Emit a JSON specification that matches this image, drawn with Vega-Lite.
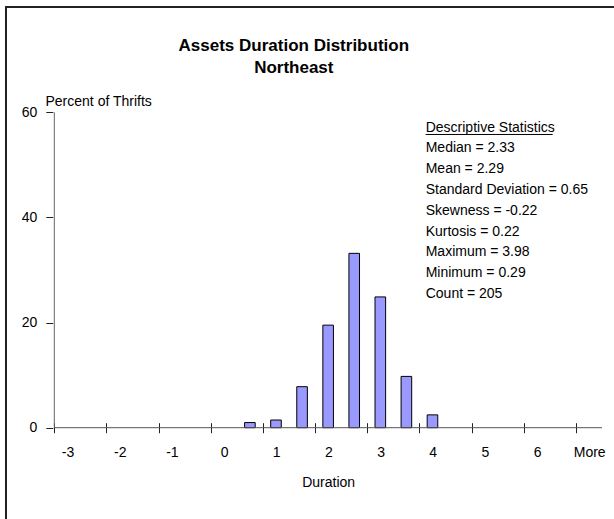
{
  "$schema": "https://vega.github.io/schema/vega-lite/v6.json",
  "width": 614,
  "height": 518,
  "autosize": "none",
  "padding": {"left": 6, "top": 7, "right": -6, "bottom": -6},
  "background": "white",
  "config": {
    "view": {"stroke": "#222", "strokeWidth": 2},
    "font": "Liberation Sans",
    "text": {"font": "Liberation Sans"},
    "axisX": {
      "offset": -102.3,
      "domain": false,
      "grid": false,
      "tickSize": 10,
      "tickColor": "#222",
      "tickWidth": 1,
      "labelPadding": 13,
      "labelOffset": 13.28,
      "labelFontSize": 14,
      "labelFont": "Liberation Sans",
      "labelColor": "black",
      "labelFlush": false,
      "labelOverlap": false,
      "labelBound": false,
      "titleFont": "Liberation Sans",
      "titleFontSize": 14,
      "titleFontWeight": "normal",
      "titleColor": "black",
      "titleBaseline": "alphabetic",
      "titleY": 63.3
    },
    "axisY": {
      "offset": -46.8,
      "domain": false,
      "grid": false,
      "tickSize": 7,
      "tickColor": "#222",
      "tickWidth": 1,
      "labelPadding": 9,
      "labelFontSize": 14,
      "labelFont": "Liberation Sans",
      "labelColor": "black",
      "labelFlush": false,
      "labelOverlap": false,
      "titleFont": "Liberation Sans",
      "titleFontSize": 14,
      "titleFontWeight": "normal",
      "titleColor": "black",
      "titleAngle": 0,
      "titleAlign": "left",
      "titleBaseline": "alphabetic",
      "titleX": -7.8,
      "titleY": 98
    }
  },
  "title": {
    "text": ["Assets Duration Distribution", "Northeast"],
    "font": "Liberation Sans",
    "fontSize": 17,
    "fontWeight": "bold",
    "color": "black",
    "anchor": "middle",
    "frame": "group",
    "baseline": "top",
    "lineHeight": 22.7,
    "offset": 0,
    "dx": -19.2,
    "dy": 70.5
  },
  "data": {
    "values": [
      {"Bin": "-3", "Duration": -3, "Percent": 0},
      {"Bin": "-2.5", "Duration": -2.5, "Percent": 0},
      {"Bin": "-2", "Duration": -2, "Percent": 0},
      {"Bin": "-1.5", "Duration": -1.5, "Percent": 0},
      {"Bin": "-1", "Duration": -1, "Percent": 0},
      {"Bin": "-0.5", "Duration": -0.5, "Percent": 0},
      {"Bin": "0", "Duration": 0, "Percent": 0},
      {"Bin": "0.5", "Duration": 0.5, "Percent": 0.98},
      {"Bin": "1", "Duration": 1, "Percent": 1.46},
      {"Bin": "1.5", "Duration": 1.5, "Percent": 7.80},
      {"Bin": "2", "Duration": 2, "Percent": 19.51},
      {"Bin": "2.5", "Duration": 2.5, "Percent": 33.17},
      {"Bin": "3", "Duration": 3, "Percent": 24.88},
      {"Bin": "3.5", "Duration": 3.5, "Percent": 9.76},
      {"Bin": "4", "Duration": 4, "Percent": 2.44},
      {"Bin": "4.5", "Duration": 4.5, "Percent": 0},
      {"Bin": "5", "Duration": 5, "Percent": 0},
      {"Bin": "5.5", "Duration": 5.5, "Percent": 0},
      {"Bin": "6", "Duration": 6, "Percent": 0},
      {"Bin": "6.5", "Duration": 6.5, "Percent": 0},
      {"Bin": "More", "Duration": 7, "Percent": 0}
    ]
  },
  "layer": [
    {
      "mark": {"type": "bar", "fill": "#9999FF", "stroke": "#000", "strokeWidth": 1, "width": 10.6},
      "encoding": {
        "x": {
          "field": "Duration",
          "type": "quantitative",
          "title": "Duration",
          "scale": {"domain": [-3.25, 7.25], "range": [43.3, 601], "nice": false, "zero": false},
          "axis": {
            "values": [-3.25, -2.75, -2.25, -1.75, -1.25, -0.75, -0.25, 0.25, 0.75, 1.25, 1.75, 2.25, 2.75, 3.25, 3.75, 4.25, 4.75, 5.25, 5.75, 6.25, 6.75, 7.25],
            "labelExpr": "(datum.value + 0.25) == round(datum.value + 0.25) ? ((datum.value + 0.25) >= 7 ? ((datum.value + 0.25) == 7 ? 'More' : '') : '' + (datum.value + 0.25)) : ''"
          }
        },
        "y": {
          "field": "Percent",
          "type": "quantitative",
          "title": "Percent of Thrifts",
          "scale": {"domain": [0, 60], "range": [420.7, 105.3], "nice": false, "zero": false},
          "axis": {"values": [0, 20, 40, 60]}
        },
        "strokeOpacity": {"condition": {"test": "datum.Percent > 0", "value": 1}, "value": 0}
      }
    },
    {
      "data": {"values": [{}]},
      "mark": {"type": "rule", "color": "#555", "strokeWidth": 1},
      "encoding": {
        "x": {"datum": -3.25, "type": "quantitative"},
        "x2": {"datum": 7.25},
        "y": {"datum": 0, "type": "quantitative"}
      }
    },
    {
      "data": {"values": [{}]},
      "mark": {"type": "rule", "color": "#666", "strokeWidth": 1},
      "encoding": {
        "x": {"datum": -3.25, "type": "quantitative"},
        "y": {"datum": 0, "type": "quantitative"},
        "y2": {"datum": 60}
      }
    },
    {
      "data": {"values": [{}]},
      "mark": {
        "type": "text",
        "text": ["Descriptive Statistics", "Median  = 2.33", "Mean = 2.29", "Standard Deviation = 0.65", "Skewness = -0.22", "Kurtosis = 0.22", "Maximum = 3.98", "Minimum =  0.29", "Count = 205"],
        "align": "left",
        "baseline": "alphabetic",
        "fontSize": 14,
        "lineHeight": 20.8,
        "font": "Liberation Sans",
        "color": "black"
      },
      "encoding": {
        "x": {"datum": 3.87, "type": "quantitative"},
        "y": {"datum": 56.31, "type": "quantitative"}
      }
    },
    {
      "data": {"values": [{}]},
      "mark": {"type": "rule", "color": "black", "strokeWidth": 1},
      "encoding": {
        "x": {"datum": 3.87, "type": "quantitative"},
        "x2": {"datum": 6.303},
        "y": {"datum": 55.78, "type": "quantitative"}
      }
    }
  ]
}
